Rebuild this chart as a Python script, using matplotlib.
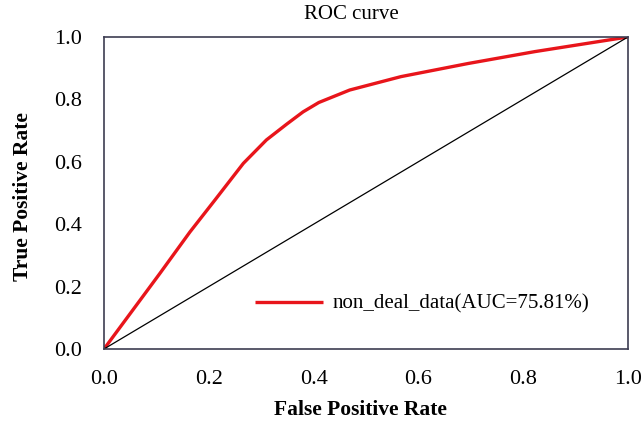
import matplotlib
matplotlib.use("Agg")
import matplotlib.pyplot as plt

# ROC points
fpr = [0.0, 0.107, 0.164, 0.212, 0.266, 0.310, 0.349, 0.380, 0.410,
       0.469, 0.567, 0.695, 0.822, 1.0]
tpr = [0.0, 0.243, 0.375, 0.478, 0.595, 0.670, 0.721, 0.760, 0.790,
       0.830, 0.873, 0.915, 0.953, 1.0]
diag = [0.0, 1.0]
ticks = [0.0, 0.2, 0.4, 0.6, 0.8, 1.0]
tick_labels = ["0.0", "0.2", "0.4", "0.6", "0.8", "1.0"]
label = "non_deal_data(AUC=75.81%)"

plt.rcParams['font.family'] = ['Liberation Serif', 'DejaVu Serif']

fig = plt.figure(figsize=(6.44, 4.28), dpi=100)
ax = fig.add_axes([0.1615, 0.1846, 0.8135, 0.729])

ax.plot(fpr, tpr, color='#e8151b', lw=2.4, label=label,
        solid_capstyle='butt', solid_joinstyle='round')
ax.plot(diag, diag, color='black', lw=0.9)

ax.set_xlim(0, 1)
ax.set_ylim(0, 1)
ax.set_xticks(ticks)
ax.set_xticklabels(tick_labels)
ax.set_yticks(ticks)
ax.set_yticklabels(tick_labels)
ax.tick_params(length=0, labelsize=16)
ax.tick_params(axis='x', pad=15)
ax.tick_params(axis='y', pad=16)
for s in ax.spines.values():
    s.set_color('#3d3d52')
    s.set_linewidth(1.2)

# title sits a bit left of centre in the original
ax.text(0.473, 1.0705, "ROC curve", transform=ax.transAxes,
        ha='center', va='center', fontsize=15)

ax.set_xlabel("False Positive Rate", fontsize=15.5, fontweight='bold', va='center')
ax.xaxis.set_label_coords(0.490, -0.195)
ax.set_ylabel("True Positive Rate", fontsize=15.5, fontweight='bold', va='center')
ax.yaxis.set_label_coords(-0.155, 0.49)

ax.legend(loc='center left', bbox_to_anchor=(0.288, 0.144), frameon=False,
          fontsize=15, handlelength=3.27, handletextpad=0.48,
          borderpad=0, borderaxespad=0)

fig.savefig("out.png", dpi=100)
